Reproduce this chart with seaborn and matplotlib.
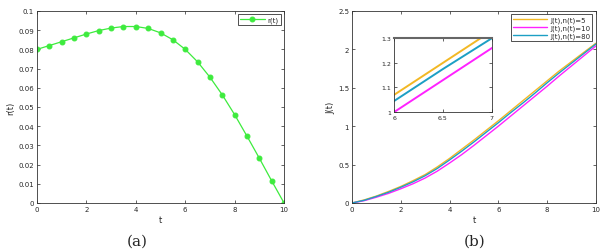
import numpy as np
import pandas as pd
import matplotlib
matplotlib.use("Agg")
import matplotlib.pyplot as plt
import seaborn as sns

# data
t = [0, 0.5, 1, 1.5, 2, 2.5, 3, 3.5, 4, 4.5, 5, 5.5, 6, 6.5, 7, 7.5, 8, 8.5, 9, 9.5, 10]
r = [0.080, 0.082, 0.084, 0.086, 0.088, 0.0898, 0.0911, 0.0919, 0.0919, 0.0909, 0.0886,
     0.0850, 0.0800, 0.0735, 0.0655, 0.0563, 0.0460, 0.0348, 0.0233, 0.0115, 0.0]
J5 = [0, 0.04, 0.09, 0.15, 0.215, 0.29, 0.37, 0.47, 0.58, 0.70, 0.82, 0.945, 1.07,
      1.20, 1.33, 1.46, 1.59, 1.72, 1.84, 1.96, 2.08]
J10 = [0, 0.03, 0.075, 0.125, 0.185, 0.25, 0.325, 0.415, 0.52, 0.63, 0.75, 0.875, 1.0,
       1.13, 1.26, 1.39, 1.52, 1.655, 1.785, 1.915, 2.045]
J80 = [0, 0.035, 0.085, 0.14, 0.205, 0.275, 0.355, 0.45, 0.56, 0.675, 0.795, 0.92, 1.045,
       1.175, 1.30, 1.43, 1.565, 1.695, 1.82, 1.945, 2.07]
labels = ["J(t),n(t)=5", "J(t),n(t)=10", "J(t),n(t)=80"]
colors = ["#F2B824", "#FF22FF", "#1C9FC4"]

sns.set_style("ticks")
plt.rcParams["font.family"] = ["DejaVu Sans"]
plt.rcParams["xtick.direction"] = "in"
plt.rcParams["ytick.direction"] = "in"

df_r = pd.DataFrame({"t": t, "r": r})
df_J = pd.DataFrame({"t": t * 3, "J": J5 + J10 + J80,
                     "series": [labels[0]] * len(t) + [labels[1]] * len(t) + [labels[2]] * len(t)})

fig = plt.figure(figsize=(6.11, 2.53), dpi=100)
ax1 = fig.add_axes([0.0606, 0.1937, 0.4043, 0.759])
ax2 = fig.add_axes([0.576, 0.1937, 0.3993, 0.759])
ax3 = fig.add_axes([0.645, 0.553, 0.160, 0.292])

def style(ax, fs=5):
    ax.tick_params(labelsize=fs, length=2, width=0.5, top=True, right=True, pad=2)
    for s in ax.spines.values():
        s.set_linewidth(0.6)
        s.set_color("#333333")

sns.lineplot(data=df_r, x="t", y="r", ax=ax1, color="#3DEB3D", marker="o",
             markersize=3.5, markeredgecolor="#3DEB3D", linewidth=0.9, label="r(t)")
ax1.set_xlim(0, 10)
ax1.set_ylim(0, 0.1)
ax1.set_xticks([0, 2, 4, 6, 8, 10])
ax1.set_yticks(np.arange(0, 0.101, 0.01))
ax1.set_yticklabels(["0", "0.01", "0.02", "0.03", "0.04", "0.05", "0.06", "0.07", "0.08", "0.09", "0.1"])
ax1.set_xlabel("t", fontsize=6, labelpad=2)
ax1.set_ylabel("r(t)", fontsize=6, labelpad=2)
style(ax1)
leg = ax1.legend(loc="upper right", fontsize=5, frameon=True, fancybox=False,
                 handlelength=3.5, borderpad=0.3, handletextpad=0.4)
leg.get_frame().set_edgecolor("black")
leg.get_frame().set_linewidth(0.6)

sns.lineplot(data=df_J, x="t", y="J", hue="series", palette=colors, ax=ax2, linewidth=1.0)
ax2.set_xlim(0, 10)
ax2.set_ylim(0, 2.5)
ax2.set_xticks([0, 2, 4, 6, 8, 10])
ax2.set_yticks([0, 0.5, 1, 1.5, 2, 2.5])
ax2.set_yticklabels(["0", "0.5", "1", "1.5", "2", "2.5"])
ax2.set_xlabel("t", fontsize=6, labelpad=2)
ax2.set_ylabel("J(t)", fontsize=6, labelpad=2)
style(ax2)
leg2 = ax2.legend(loc="upper right", fontsize=5, frameon=True, fancybox=False,
                  handlelength=5, borderpad=0.3, handletextpad=0.4, labelspacing=0.2)
leg2.get_frame().set_edgecolor("black")
leg2.get_frame().set_linewidth(0.6)

sns.lineplot(data=df_J, x="t", y="J", hue="series", palette=colors, ax=ax3,
             linewidth=1.4, legend=False)
ax3.set_xlim(6, 7)
ax3.set_ylim(1, 1.3)
ax3.set_xticks([6, 6.5, 7])
ax3.set_xticklabels(["6", "6.5", "7"])
ax3.set_yticks([1, 1.1, 1.2, 1.3])
ax3.set_yticklabels(["1", "1.1", "1.2", "1.3"])
ax3.set_xlabel("")
ax3.set_ylabel("")
style(ax3, fs=4.5)
ax3.spines["top"].set_linewidth(1.5)
ax3.spines["top"].set_color("#666666")

fig.text(0.2245, 0.03, "(a)", fontsize=11, family="serif", ha="center")
fig.text(0.776, 0.03, "(b)", fontsize=11, family="serif", ha="center")

fig.savefig("out.png", dpi=100)
